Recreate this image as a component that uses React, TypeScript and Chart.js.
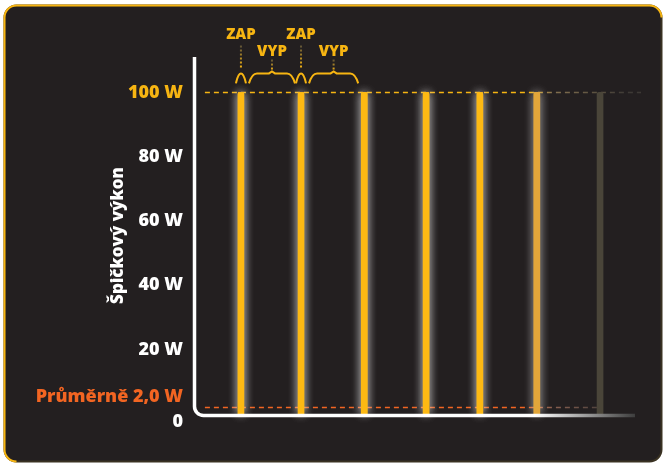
import React, { useEffect, useRef } from "react";
import { Chart, registerables } from "chart.js";

Chart.register(...registerables);

// ---- data ----
const pulseTimes = [10.1, 23.6, 37.8, 51.7, 63.8, 76.6, 90.8];
const pulsePower = [100, 100, 100, 100, 100, 100, 100];
const pulseColors = ["#FDB913", "#FDB913", "#FDB913", "#FDB913", "#FDB913", "#E2A63A", "#4A4539"];
const pulseGlow = [0.6, 0.6, 0.6, 0.6, 0.6, 0.45, 0];
const peakPower = 100;
const averagePower = 2;
const averageLabel = "Průměrně 2,0 W";
const yTicks = [20, 40, 60, 80, 100];
const zeroLabel = "0";
const yTitle = "Špičkový výkon";
const onLabel = "ZAP";
const offLabel = "VYP";
const onPulses = [0, 1];

const YELLOW = "#F7B512";
const ORANGE = "#F26522";
const FONT = "'Open Sans', 'DejaVu Sans', sans-serif";
const WEIGHT = "800";

function roundRectPath(ctx: CanvasRenderingContext2D, x: number, y: number, w: number, h: number, r: number) {
  ctx.beginPath();
  ctx.moveTo(x + r, y);
  ctx.arcTo(x + w, y, x + w, y + r, r);
  ctx.arcTo(x + w, y + h, x + w - r, y + h, r);
  ctx.arcTo(x, y + h, x, y + h - r, r);
  ctx.arcTo(x, y, x + r, y, r);
  ctx.closePath();
}

const decorPlugin = {
  id: "decor",
  beforeDraw(chart: any) {
    const { ctx, width, height } = chart;
    ctx.save();
    ctx.fillStyle = "#ffffff";
    ctx.fillRect(0, 0, width, height);
    const x = 4.5, y = 5.5, w = width - 6, h = height - 7, r = 12;
    roundRectPath(ctx, x, y, w, h, r);
    ctx.fillStyle = "#231F20";
    ctx.fill();
    ctx.lineWidth = 2;
    ctx.strokeStyle = "#3A3222";
    ctx.stroke();
    ctx.beginPath();
    ctx.moveTo(x + w, y + r);
    ctx.arcTo(x + w, y, x + w - r, y, r);
    ctx.lineTo(x + r, y);
    ctx.arcTo(x, y, x, y + r, r);
    ctx.lineTo(x, y + h - r);
    ctx.arcTo(x, y + h, x + r, y + h, r);
    ctx.strokeStyle = YELLOW;
    ctx.stroke();
    ctx.restore();
  },
  beforeDatasetDraw(chart: any, args: any) {
    if (args.meta.type !== "bar") return;
    const { ctx } = chart;
    ctx.save();
    args.meta.data.forEach((bar: any, i: number) => {
      const a = pulseGlow[i];
      if (!a) return;
      ctx.shadowColor = `rgba(235,235,235,${a})`;
      ctx.shadowBlur = 10;
      ctx.fillStyle = pulseColors[i];
      for (let k = 0; k < 2; k++) {
        ctx.fillRect(bar.x - bar.width / 2, bar.y, bar.width, bar.base - bar.y);
      }
    });
    ctx.restore();
  },
  afterDatasetsDraw(chart: any) {
    const { ctx, chartArea, scales } = chart;
    const y0 = scales.y.getPixelForValue(0);
    ctx.save();
    // axis frame
    const lx = chartArea.left - 1.5;
    const by = y0 + 1.5;
    const g = ctx.createLinearGradient(chartArea.left, 0, chartArea.left + 440, 0);
    g.addColorStop(0, "#ffffff");
    g.addColorStop(0.77, "#ffffff");
    g.addColorStop(1, "#3C3C3C");
    ctx.beginPath();
    ctx.moveTo(lx, chartArea.top);
    ctx.lineTo(lx, by - 9);
    ctx.arcTo(lx, by, lx + 9, by, 9);
    ctx.lineTo(chartArea.left + 439, by);
    ctx.lineWidth = 3.5;
    ctx.strokeStyle = g;
    ctx.stroke();

    // labels below / at the axis
    ctx.font = `${WEIGHT} 18px ${FONT}`;
    ctx.textAlign = "right";
    ctx.textBaseline = "middle";
    const tx = chartArea.left - 13;
    ctx.fillStyle = "#ffffff";
    ctx.fillText(zeroLabel, tx, y0 + 8);
    ctx.fillStyle = ORANGE;
    ctx.fillText(averageLabel, tx, scales.y.getPixelForValue(averagePower) - 11);

    // ZAP / VYP annotations
    const y100 = scales.y.getPixelForValue(peakPower);
    const px = pulseTimes.map((t) => scales.x.getPixelForValue(t));
    const bBot = y100 - 9;
    const bTop = y100 - 19;
    ctx.textAlign = "center";
    ctx.font = `${WEIGHT} 15px ${FONT}`;
    ctx.lineWidth = 2;
    onPulses.forEach((i) => {
      const x = px[i];
      const xn = px[i + 1];
      const mid = (x + 8 + xn - 6) / 2;
      ctx.fillStyle = YELLOW;
      ctx.fillText(onLabel, x, y100 - 58);
      ctx.fillText(offLabel, mid, y100 - 41);
      // dotted leaders
      const dot = (xx: number, ya: number, yb: number) => {
        const dg = ctx.createLinearGradient(0, ya, 0, yb);
        dg.addColorStop(0, "#5E5337");
        dg.addColorStop(1, YELLOW);
        ctx.save();
        ctx.strokeStyle = dg;
        ctx.setLineDash([2, 2]);
        ctx.beginPath();
        ctx.moveTo(xx, ya);
        ctx.lineTo(xx, yb);
        ctx.stroke();
        ctx.restore();
      };
      dot(x, y100 - 47, y100 - 24);
      dot(mid, y100 - 33, y100 - 21);
      ctx.strokeStyle = YELLOW;
      ctx.setLineDash([]);
      // narrow arch over the pulse
      ctx.beginPath();
      ctx.moveTo(x - 5, bBot);
      ctx.bezierCurveTo(x - 4, bBot - 4, x - 3, bTop, x, bTop);
      ctx.bezierCurveTo(x + 3, bTop, x + 4, bBot - 4, x + 5, bBot);
      ctx.stroke();
      // brace over the off time
      const x1 = x + 8;
      const x2 = xn - 6;
      ctx.beginPath();
      ctx.moveTo(x1, bBot);
      ctx.quadraticCurveTo(x1 + 3, bTop, x1 + 8, bTop);
      ctx.lineTo(mid - 3, bTop);
      ctx.lineTo(mid, bTop - 2);
      ctx.lineTo(mid + 3, bTop);
      ctx.lineTo(x2 - 8, bTop);
      ctx.quadraticCurveTo(x2 - 3, bTop, x2, bBot);
      ctx.stroke();
    });
    ctx.restore();
  },
};

function lineGradient(stops: [number, string][]) {
  return (context: any) => {
    const { chart } = context;
    const { ctx, chartArea } = chart;
    if (!chartArea) return stops[0][1];
    const g = ctx.createLinearGradient(chartArea.left, 0, chartArea.right, 0);
    stops.forEach(([p, c]) => g.addColorStop(p, c));
    return g;
  };
}

export default function App() {
  const ref = useRef<HTMLCanvasElement>(null);
  useEffect(() => {
    document.body.style.margin = "0";
    const canvas = ref.current!;
    const chart = new Chart(canvas, {
      data: {
        datasets: [
          {
            type: "bar",
            data: pulseTimes.map((t, i) => ({ x: t, y: pulsePower[i] })),
            backgroundColor: pulseColors,
            barThickness: 6,
            borderRadius: { topLeft: 2, topRight: 2, bottomLeft: 0, bottomRight: 0 },
            borderSkipped: "bottom",
            order: 0,
          } as any,
          {
            type: "line",
            data: [
              { x: 2, y: peakPower },
              { x: 100, y: peakPower },
            ],
            borderColor: lineGradient([
              [0, YELLOW],
              [0.75, YELLOW],
              [0.8, "#857250"],
              [0.97, "#3D3935"],
              [1, "#3D3935"],
            ]),
            borderWidth: 1.5,
            borderDash: [5, 4],
            pointRadius: 0,
            clip: false,
            order: 1,
          } as any,
          {
            type: "line",
            data: [
              { x: 2, y: averagePower },
              { x: pulseTimes[pulseTimes.length - 1], y: averagePower },
            ],
            borderColor: lineGradient([
              [0, ORANGE],
              [0.74, ORANGE],
              [0.8, "#8A6050"],
              [0.92, "#4A403C"],
              [1, "#4A403C"],
            ]),
            borderWidth: 1.5,
            borderDash: [5, 4],
            pointRadius: 0,
            clip: false,
            order: 1,
          } as any,
        ],
      },
      options: {
        responsive: false,
        animation: false,
        devicePixelRatio: 1,
        layout: { padding: { left: 0, top: 57, right: 22, bottom: 49 } },
        plugins: { legend: { display: false }, tooltip: { enabled: false } },
        scales: {
          x: {
            type: "linear",
            min: 0,
            max: 100,
            offset: false,
            display: false,
          },
          y: {
            type: "linear",
            min: 0,
            max: 111,
            grid: { display: false, drawTicks: false },
            border: { display: false },
            afterBuildTicks: (scale: any) => {
              scale.ticks = yTicks.map((v) => ({ value: v }));
            },
            afterFit: (scale: any) => {
              scale.width = 196;
            },
            ticks: {
              padding: 13,
              autoSkip: false,
              font: { family: FONT, size: 18, weight: WEIGHT },
              color: (c: any) => (c.tick && c.tick.value === 100 ? YELLOW : "#ffffff"),
              callback: (v: any) => `${v} W`,
            },
            title: {
              display: true,
              text: yTitle,
              color: "#ffffff",
              font: { family: FONT, size: 17, weight: WEIGHT },
              padding: { top: 108, bottom: 0 },
            },
          },
        },
      },
      plugins: [decorPlugin],
    } as any);
    return () => chart.destroy();
  }, []);
  return (
    <div style={{ width: 663, height: 463 }}>
      <canvas ref={ref} width={663} height={463} style={{ display: "block" }} />
    </div>
  );
}
